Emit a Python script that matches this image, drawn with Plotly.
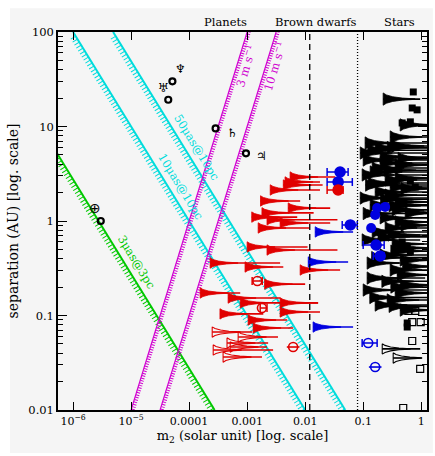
import math
import plotly.graph_objects as go

FONT = "DejaVu Serif"
RED = "#e00000"
BLUE = "#0000e0"
BLACK = "#000000"
CYAN = "#00dcdc"
GREEN = "#00c800"
MAGENTA = "#d000d0"
BG = "#f5f5f5"

# ---------------- data ----------------
# detection limits (line endpoints, m2 [Msun], a [AU])
ast10_m = [1e-6, 1e-2]
ast10_a = [100, 0.01]
ast50_m = [4.9e-6, 4.9e-2]
ast50_a = [100, 0.01]
ast3_m = [1e-7, 2.75e-4]
ast3_a = [27.5, 0.01]
rv3_m = [1e-5, 1e-3]
rv3_a = [0.01, 100]
rv10_m = [3.16e-5, 3.16e-3]
rv10_a = [0.01, 100]

# boundaries
bd_limit = 0.012
star_limit = 0.08

# red planets: minimum mass, separation, upper mass
red_m = [5.5e-3, 4.5e-3, 4.2e-3, 2.5e-3, 1.7e-3, 5.1e-3, 1.2e-3, 1.8e-3, 2.2e-3, 1.55e-3,
         3.7e-3, 1.0e-3, 2.2e-3, 2.3e-4, 9.2e-4, 8.2e-3, 2.0e-3, 1.55e-4, 4.7e-4, 7.6e-4,
         3.7e-3, 3.7e-3, 3.4e-4, 1.04e-3, 1.27e-3]
red_a = [2.92, 2.59, 2.40, 2.13, 1.63, 1.37, 1.10, 1.22, 1.03, 0.844,
         0.953, 0.531, 0.493, 0.359, 0.326, 0.303, 0.215, 0.173, 0.153, 0.136,
         0.136, 0.109, 0.104, 0.0896, 0.0738]
red_mmax = [0.033, 0.018, 0.020, 0.018, 8.2e-3, 0.027, 7.3e-3, 0.014, 0.036, 0.012,
            0.027, 0.011, 0.036, 3.7e-3, 4.2e-3, 0.040, 0.010, 7.6e-4, 3.7e-3, 0.0167,
            0.0167, 0.018, 1.9e-3, 4.9e-3, 6.2e-3]

red_open_m = [2.5e-4, 7.0e-4, 4.5e-4, 2.6e-4, 3.85e-4, 5.1e-4]
red_open_a = [0.0668, 0.0592, 0.0512, 0.0432, 0.0364, 0.0464]
red_open_mmax = [1.22e-3, 3.4e-3, 2.3e-3, 2.8e-3, 1.8e-3, 2.2e-3]

blue_m = [0.0149, 0.0113, 0.0137]
blue_a = [0.766, 0.368, 0.0755]
blue_mmax = [0.067, 0.055, 0.067]

# stellar companions (black)
blk_m = [0.221, 0.435, 0.292, 0.108, 0.316, 0.161, 0.089, 0.196, 0.100, 0.196,
         0.356, 0.143, 0.132, 0.096, 0.356, 0.239, 0.122, 0.292, 0.161, 0.239,
         0.089, 0.356, 0.132, 0.316, 0.53, 0.196, 0.356, 0.239, 0.143, 0.270,
         0.096, 0.316, 0.386, 0.196, 0.435, 0.117, 0.292, 0.386, 0.117, 0.435,
         0.100, 0.356, 0.259, 0.161, 0.435,
         0.26, 0.12, 0.40, 0.23, 0.11, 0.45, 0.20, 0.28, 0.10, 0.45,
         0.18, 0.30, 0.14, 0.48, 0.21, 0.30, 0.13, 0.28]
blk_a = [19.5, 10.4, 7.74, 6.69, 6.22, 5.92, 5.24, 4.75, 4.42, 4.11,
         3.92, 3.64, 3.30, 3.07, 2.85, 2.72, 2.52, 2.29, 2.03, 1.88,
         1.75, 1.59, 1.48, 1.31, 1.22, 1.08, 0.976, 0.844, 0.766, 0.711,
         0.630, 0.571, 0.518, 0.437, 0.386, 0.359, 0.303, 0.269, 0.249, 0.210,
         0.186, 0.173, 0.146, 0.129, 0.114,
         6.0, 5.6, 4.6, 3.45, 2.4, 2.2, 1.7, 1.45, 1.2, 0.9,
         0.68, 0.48, 0.41, 0.33, 0.23, 0.20, 0.155, 0.125]
blk_mmax = [0.96, 1.5, 1.5, 1.5, 1.5, 1.5, 1.5, 1.5, 1.5, 1.5,
            1.5, 1.5, 1.5, 1.5, 1.5, 1.5, 1.5, 1.5, 1.5, 1.5,
            1.5, 1.5, 1.5, 1.5, 1.5, 1.5, 1.5, 1.5, 1.5, 1.5,
            0.96, 1.5, 1.5, 1.5, 1.5, 0.435, 1.5, 1.5, 1.17, 1.5,
            1.5, 1.5, 1.5, 1.5, 1.5,
            1.5, 1.5, 1.5, 1.5, 1.5, 1.5, 1.5, 1.5, 1.5, 1.5,
            1.5, 1.5, 1.5, 1.5, 1.5, 1.5, 1.5, 1.5]
blk_open_m = [0.213, 0.329]
blk_open_a = [0.0443, 0.0355]
blk_open_mmax = [0.96, 1.04]

sq_m = [0.73, 0.70, 0.85, 0.47, 0.65, 0.65, 0.79, 0.47, 0.574, 0.65, 0.574, 0.574]
sq_a = [23.2, 15.7, 15.0, 10.9, 11.2, 2.65, 2.29, 0.60, 0.531, 0.47, 0.0833, 0.0755]
sq_open_m = [0.60, 0.79, 0.70, 0.98, 0.70, 0.96, 0.49]
sq_open_a = [0.112, 0.112, 0.0853, 0.0853, 0.0537, 0.0272, 0.0105]

# circles with mass error bars
bc_m = [0.040, 0.037, 0.060, 0.167, 0.196]
bc_a = [3.30, 2.59, 0.908, 0.557, 0.426]
bc_lo = [0.0239, 0.0239, 0.0435, 0.100, 0.149]
bc_hi = [0.055, 0.065, 0.079, 0.230, 0.230]
bc2_m = [0.174, 0.239, 0.161, 0.137]
bc2_a = [1.37, 1.41, 1.16, 0.844]
rc_m = [0.037]
rc_a = [2.13]
rc_lo = [0.0239]
rc_hi = [0.045]

# open "theta" symbols
rth_m = [1.5e-3, 1.8e-3]
rth_a = [0.232, 0.120]
rth_lo = [1.22e-3, 1.68e-3]
rth_hi = [1.82e-3, 2.2e-3]
rth2_m = [6.2e-3]
rth2_a = [0.0464]
bth_m = [0.122]
bth_a = [0.0512]
bth_lo = [0.096]
bth_hi = [0.174]
bth2_m = [0.161]
bth2_a = [0.0285]

# solar system
sol_names = ["Earth", "Saturn", "Jupiter", "Uranus", "Neptune"]
sol_m = [3.0e-6, 2.86e-4, 9.55e-4, 4.37e-5, 5.15e-5]
sol_a = [1.0, 9.54, 5.20, 19.2, 30.1]
sol_sym = ["⊕", "♄", "♃", "♅", "♆"]

x_tickvals = [1e-6, 1e-5, 1e-4, 1e-3, 1e-2, 1e-1, 1]
x_ticktext = ["10<sup>−6</sup>", "10<sup>−5</sup>", "0.0001", "0.001", "0.01", "0.1", "1"]
y_tickvals = [0.01, 0.1, 1, 10, 100]
y_ticktext = ["0.01", "0.1", "1", "10", "100"]

# ---------------- helpers ----------------
# horn outline profile: (fraction of length, fraction of half-height)
PROFILE = [(0.0, 1.0), (0.10, 0.68), (0.30, 0.38), (0.60, 0.17), (1.0, 0.04)]


def horns(m, a, mmax, h, L):
    px, py, lx, ly = [], [], [], []
    for mi, ai, me in zip(m, a, mmax):
        top = [(mi * 10 ** (L * fx), ai * 10 ** (h * fy)) for fx, fy in PROFILE]
        bot = [(mi * 10 ** (L * fx), ai * 10 ** (-h * fy)) for fx, fy in PROFILE[::-1]]
        pts = top + bot + [top[0]]
        px += [p[0] for p in pts] + [None]
        py += [p[1] for p in pts] + [None]
        lx += [mi, me, None]
        ly += [ai, ai, None]
    return px, py, lx, ly


fig = go.Figure()


def limit_line(mx, ay, color, width, hatch_w, hatch_dash, mshift=1.0, ashift=1.0):
    fig.add_trace(go.Scatter(x=[v * mshift for v in mx], y=[v * ashift for v in ay],
                             mode="lines",
                             line=dict(color=color, width=hatch_w, dash=hatch_dash),
                             hoverinfo="skip"))
    fig.add_trace(go.Scatter(x=mx, y=ay, mode="lines",
                             line=dict(color=color, width=width), hoverinfo="skip"))


# astrometric limits: hatch hangs below the line
limit_line(ast10_m, ast10_a, CYAN, 2, 6, "1px,2.5px", ashift=10 ** -0.055)
limit_line(ast50_m, ast50_a, CYAN, 2, 6, "1px,2.5px", ashift=10 ** -0.055)
limit_line(ast3_m, ast3_a, GREEN, 2, 6, "1px,2.5px", ashift=10 ** -0.055)
# radial-velocity limits: hatch on the right
limit_line(rv3_m, rv3_a, MAGENTA, 1.2, 3.5, "1px,1.5px", mshift=10 ** 0.035)
limit_line(rv10_m, rv10_a, MAGENTA, 1.2, 3.5, "1px,1.5px", mshift=10 ** 0.035)


def add_horns(m, a, mmax, color, filled=True, h=0.055, L=0.48):
    px, py, lx, ly = horns(m, a, mmax, h, L)
    if filled:
        fig.add_trace(go.Scatter(x=px, y=py, mode="lines", fill="toself", fillcolor=color,
                                 line=dict(color=color, width=0.8), hoverinfo="skip"))
    else:
        fig.add_trace(go.Scatter(x=px, y=py, mode="lines",
                                 line=dict(color=color, width=1.1), hoverinfo="skip"))
    fig.add_trace(go.Scatter(x=lx, y=ly, mode="lines",
                             line=dict(color=color, width=1.6), hoverinfo="skip"))


add_horns(blk_m, blk_a, blk_mmax, BLACK, h=0.065, L=0.55)
add_horns(blk_open_m, blk_open_a, blk_open_mmax, BLACK, filled=False)
add_horns(red_m, red_a, red_mmax, RED)
add_horns(red_open_m, red_open_a, red_open_mmax, RED, filled=False)
add_horns(blue_m, blue_a, blue_mmax, BLUE)

fig.add_trace(go.Scatter(x=sq_m, y=sq_a, mode="markers",
                         marker=dict(symbol="square", size=7, color=BLACK)))
fig.add_trace(go.Scatter(x=sq_open_m, y=sq_open_a, mode="markers",
                         marker=dict(symbol="square-open", size=7, color=BLACK,
                                     line=dict(width=1.2))))


def err_pts(m, a, lo, hi, color, symbol, size):
    fig.add_trace(go.Scatter(
        x=m, y=a, mode="markers",
        marker=dict(symbol=symbol, size=size, color=color, line=dict(width=1.6, color=color)),
        error_x=dict(type="data", symmetric=False,
                     array=[h - v for h, v in zip(hi, m)],
                     arrayminus=[v - l for v, l in zip(m, lo)],
                     color=color, thickness=1.5, width=4)))


err_pts(bc_m, bc_a, bc_lo, bc_hi, BLUE, "circle", 10)
err_pts(rc_m, rc_a, rc_lo, rc_hi, RED, "circle", 10)
fig.add_trace(go.Scatter(x=bc2_m, y=bc2_a, mode="markers",
                         marker=dict(symbol="circle", size=10, color=BLUE)))
err_pts(rth_m, rth_a, rth_lo, rth_hi, RED, "circle-open", 9)
err_pts(bth_m, bth_a, bth_lo, bth_hi, BLUE, "circle-open", 9)
for mm, aa, cc in [(rth2_m, rth2_a, RED), (bth2_m, bth2_a, BLUE)]:
    for sym in ["circle-open", "line-ew-open"]:
        fig.add_trace(go.Scatter(x=mm, y=aa, mode="markers",
                                 marker=dict(symbol=sym, size=9, color=cc,
                                             line=dict(width=1.6, color=cc))))

fig.add_trace(go.Scatter(x=sol_m, y=sol_a, mode="markers",
                         marker=dict(symbol="circle-open", size=6, color=BLACK,
                                     line=dict(width=2.2, color=BLACK))))

annotations = []
sym_off = [(-6, 13), (17, -5), (16, -3), (-5, 12), (8, 12)]
for mm, aa, s, (dx, dy) in zip(sol_m, sol_a, sol_sym, sym_off):
    annotations.append(dict(x=math.log10(mm), y=math.log10(aa), xref="x", yref="y",
                            text=s, showarrow=False, xshift=dx, yshift=dy,
                            font=dict(family="DejaVu Sans", size=12 if s != "⊕" else 14,
                                      color=BLACK)))

# labels of the limit lines (anchor on the line, then shifted off it)
lbl = [
    ("50μas@10pc", 9.3e-5, 5.26, CYAN, 58.5, 9, 5.5),
    ("10μas@10pc", 4.9e-5, 2.03, CYAN, 58.5, 9, 5.5),
    ("3μas@3pc", 8.6e-6, 0.319, GREEN, 58.5, 9, 5.5),
    ("3 m s<sup>−1</sup>", 6.8e-4, 45.8, MAGENTA, -73, 8, -2),
    ("10 m s<sup>−1</sup>", 2.14e-3, 45.8, MAGENTA, -73, 8, -2),
]
for t, mm, aa, cc, ang, dx, dy in lbl:
    annotations.append(dict(x=math.log10(mm), y=math.log10(aa), xref="x", yref="y",
                            text=t, showarrow=False, textangle=ang, xshift=dx, yshift=dy,
                            font=dict(family=FONT, size=11.5, color=cc)))

regions = [("Planets", 4.2e-4), ("Brown dwarfs", 0.0155), ("Stars", 0.43)]
for t, mm in regions:
    annotations.append(dict(x=math.log10(mm), y=1, xref="x", yref="paper", text=t,
                            showarrow=False, yanchor="bottom", yshift=1,
                            font=dict(family=FONT, size=11.5, color=BLACK)))

shapes = [
    dict(type="rect", xref="paper", yref="paper", x0=-0.13, x1=1.016, y0=-0.114, y1=1.063,
         fillcolor=BG, line=dict(width=0), layer="below"),
    dict(type="line", xref="x", yref="paper", x0=bd_limit, x1=bd_limit, y0=0, y1=1,
         line=dict(color=BLACK, width=1.3, dash="6px,4px")),
    dict(type="line", xref="x", yref="paper", x0=star_limit, x1=star_limit, y0=0, y1=1,
         line=dict(color=BLACK, width=1.3, dash="1px,2px")),
]

minor_y = [k * 10 ** e for e in range(-2, 2) for k in range(2, 10)]

fig.update_layout(
    width=435, height=456,
    margin=dict(l=58, r=8, t=32, b=46),
    paper_bgcolor="white", plot_bgcolor=BG,
    showlegend=False,
    annotations=annotations,
    shapes=shapes,
    font=dict(family=FONT, color=BLACK),
)
fig.update_xaxes(
    type="log", range=[-6.26, 0.1], tickvals=x_tickvals, ticktext=x_ticktext,
    ticks="inside", ticklen=8, tickwidth=1.3, tickcolor=BLACK,
    showline=True, linecolor=BLACK, linewidth=1.5, mirror="allticks",
    showgrid=False, zeroline=False, automargin=False,
    tickfont=dict(family=FONT, size=11, color=BLACK),
    title=dict(text="m<sub>2</sub> (solar unit) [log. scale]", standoff=4,
               font=dict(family=FONT, size=13, color=BLACK)),
)
fig.update_yaxes(
    type="log", range=[-2, 2], tickvals=y_tickvals, ticktext=y_ticktext,
    ticks="inside", ticklen=9, tickwidth=1.3, tickcolor=BLACK,
    showline=True, linecolor=BLACK, linewidth=1.5, mirror="allticks",
    showgrid=False, zeroline=False, automargin=False,
    minor=dict(tickvals=minor_y, ticks="inside", ticklen=5, tickcolor=BLACK, showgrid=False),
    tickfont=dict(family=FONT, size=11.5, color=BLACK),
    title=dict(text="separation (AU) [log. scale]", standoff=6,
               font=dict(family=FONT, size=14, color=BLACK)),
)

fig.write_html("out.html", config={"displayModeBar": False},
               post_script="document.body.style.margin='0px';")
